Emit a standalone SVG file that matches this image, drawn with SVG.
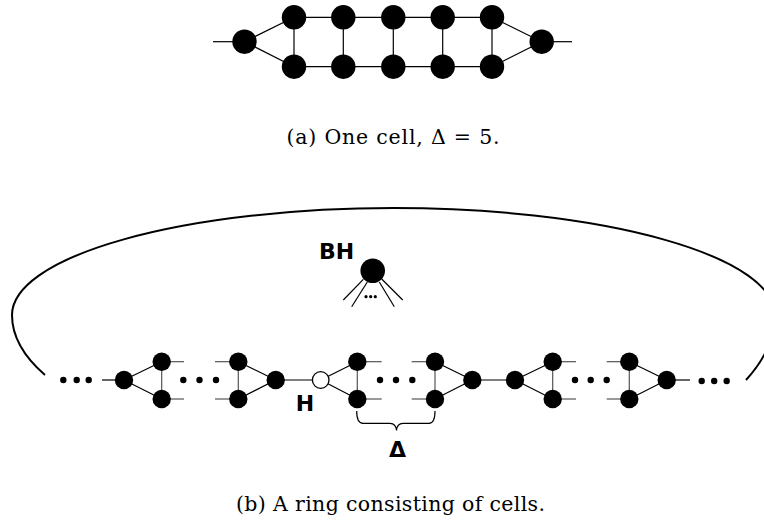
<svg xmlns="http://www.w3.org/2000/svg" width="764" height="532" viewBox="0 0 764 532">
<defs>
<style>
.e{stroke:#000;stroke-width:1.2;fill:none}
.s{stroke:#555;stroke-width:1.2;fill:none}
.n{fill:#000}
.d{fill:#000}
.cap{font-family:"DejaVu Serif","Liberation Serif",serif;fill:#000}
.lbl{font-family:"DejaVu Sans","Liberation Sans",sans-serif;font-weight:bold;fill:#000}
</style>
</defs>
<rect width="764" height="532" fill="#fff"/>

<!-- (a) one cell -->
<g id="connectors-a">
<line class="e" x1="213" y1="41.7" x2="244.5" y2="41.7"/>
<line class="e" x1="244.5" y1="41.7" x2="294" y2="17.3"/>
<line class="e" x1="244.5" y1="41.7" x2="294" y2="66.7"/>
<line class="e" x1="294" y1="17.3" x2="492" y2="17.3"/>
<line class="e" x1="294" y1="66.7" x2="492" y2="66.7"/>
<line class="e" x1="294" y1="17.3" x2="294" y2="66.7"/>
<line class="e" x1="343.3" y1="17.3" x2="343.3" y2="66.7"/>
<line class="e" x1="393.3" y1="17.3" x2="393.3" y2="66.7"/>
<line class="e" x1="442.7" y1="17.3" x2="442.7" y2="66.7"/>
<line class="e" x1="492" y1="17.3" x2="492" y2="66.7"/>
<line class="e" x1="492" y1="17.3" x2="541.7" y2="41.7"/>
<line class="e" x1="492" y1="66.7" x2="541.7" y2="41.7"/>
<line class="e" x1="541.7" y1="41.7" x2="572" y2="41.7"/>
</g>
<g id="cell-nodes">
<circle id="a-l" class="n" cx="244.5" cy="41.7" r="12.2"/>
<circle id="a-t1" class="n" cx="294" cy="17.3" r="12.2"/>
<circle id="a-t2" class="n" cx="343.3" cy="17.3" r="12.2"/>
<circle id="a-t3" class="n" cx="393.3" cy="17.3" r="12.2"/>
<circle id="a-t4" class="n" cx="442.7" cy="17.3" r="12.2"/>
<circle id="a-t5" class="n" cx="492" cy="17.3" r="12.2"/>
<circle id="a-b1" class="n" cx="294" cy="66.7" r="12.2"/>
<circle id="a-b2" class="n" cx="343.3" cy="66.7" r="12.2"/>
<circle id="a-b3" class="n" cx="393.3" cy="66.7" r="12.2"/>
<circle id="a-b4" class="n" cx="442.7" cy="66.7" r="12.2"/>
<circle id="a-b5" class="n" cx="492" cy="66.7" r="12.2"/>
<circle id="a-r" class="n" cx="541.7" cy="41.7" r="12.2"/>
</g>
<text class="cap" x="393" y="144" font-size="20.5" text-anchor="middle" textLength="213">(a) One cell, Δ = 5.</text>

<!-- (b) ring -->
<path id="ring" d="M 45 375 A 379 147 0 0 1 12 315 A 381.5 107 0 0 1 775 315 A 384 173 0 0 1 746 380" fill="none" stroke="#000" stroke-width="2"/>

<g id="connectors-b">
<line class="e" x1="102" y1="380" x2="124" y2="380"/>
<line class="e" x1="124" y1="380" x2="161.7" y2="361.7"/>
<line class="e" x1="124" y1="380" x2="161.7" y2="399"/>
<line class="s" x1="161.7" y1="361.7" x2="161.7" y2="399"/>
<line class="s" x1="161.7" y1="361.7" x2="184" y2="361.7"/>
<line class="s" x1="161.7" y1="399" x2="184" y2="399"/>
<line class="s" x1="215" y1="361.7" x2="238.3" y2="361.7"/>
<line class="s" x1="215" y1="399" x2="238.3" y2="399"/>
<line class="s" x1="238.3" y1="361.7" x2="238.3" y2="399"/>
<line class="e" x1="238.3" y1="361.7" x2="275.7" y2="380"/>
<line class="e" x1="238.3" y1="399" x2="275.7" y2="380"/>
<line class="e" x1="275.7" y1="380" x2="320.7" y2="380"/>
<line class="e" x1="320.7" y1="380" x2="357.3" y2="361.7"/>
<line class="e" x1="320.7" y1="380" x2="357.3" y2="399"/>
<line class="s" x1="357.3" y1="361.7" x2="357.3" y2="399"/>
<line class="s" x1="357.3" y1="361.7" x2="381.7" y2="361.7"/>
<line class="s" x1="357.3" y1="399" x2="381.7" y2="399"/>
<line class="s" x1="411.7" y1="361.7" x2="435" y2="361.7"/>
<line class="s" x1="411.7" y1="399" x2="435" y2="399"/>
<line class="s" x1="435" y1="361.7" x2="435" y2="399"/>
<line class="e" x1="435" y1="361.7" x2="472.3" y2="380"/>
<line class="e" x1="435" y1="399" x2="472.3" y2="380"/>
<line class="e" x1="472.3" y1="380" x2="515" y2="380"/>
<line class="e" x1="515" y1="380" x2="552.7" y2="361.7"/>
<line class="e" x1="515" y1="380" x2="552.7" y2="399"/>
<line class="s" x1="552.7" y1="361.7" x2="552.7" y2="399"/>
<line class="s" x1="552.7" y1="361.7" x2="576" y2="361.7"/>
<line class="s" x1="552.7" y1="399" x2="576" y2="399"/>
<line class="s" x1="606.7" y1="361.7" x2="629.3" y2="361.7"/>
<line class="s" x1="606.7" y1="399" x2="629.3" y2="399"/>
<line class="s" x1="629.3" y1="361.7" x2="629.3" y2="399"/>
<line class="e" x1="629.3" y1="361.7" x2="666.7" y2="380"/>
<line class="e" x1="629.3" y1="399" x2="666.7" y2="380"/>
<line class="e" x1="666.7" y1="380" x2="690" y2="380"/>
<!-- BH edges -->
<line class="e" stroke-width="1" x1="363.3" y1="279.3" x2="343.3" y2="300"/>
<line class="e" stroke-width="1" x1="367.3" y1="282" x2="351.7" y2="306.7"/>
<line class="e" stroke-width="1" x1="379.3" y1="282" x2="394.3" y2="306.7"/>
<line class="e" stroke-width="1" x1="381.7" y1="279" x2="402.7" y2="300"/>
<!-- brace -->
<path class="e" stroke-width="1" d="M 356.7 411 Q 356.7 423.3 363 423.3 L 390 423.3 Q 396 423.3 396.5 430.5 Q 397 423.3 403 423.3 L 429 423.3 Q 435 423.3 435 411"/>
</g>

<g id="dots">
<circle class="d" cx="63.3" cy="380" r="3.2"/>
<circle class="d" cx="76.7" cy="380" r="3.2"/>
<circle class="d" cx="88.7" cy="380" r="3.2"/>
<circle class="d" cx="183.3" cy="380" r="3.2"/>
<circle class="d" cx="199.5" cy="380" r="3.2"/>
<circle class="d" cx="216" cy="380" r="3.2"/>
<circle class="d" cx="380" cy="380" r="3.2"/>
<circle class="d" cx="396" cy="380" r="3.2"/>
<circle class="d" cx="412.3" cy="380" r="3.2"/>
<circle class="d" cx="575" cy="380" r="3.2"/>
<circle class="d" cx="590.7" cy="380" r="3.2"/>
<circle class="d" cx="606.7" cy="380" r="3.2"/>
<circle class="d" cx="701.7" cy="381" r="3.2"/>
<circle class="d" cx="714.2" cy="381" r="3.2"/>
<circle class="d" cx="726.7" cy="381" r="3.2"/>
<circle class="d" cx="366" cy="296.7" r="1.6"/>
<circle class="d" cx="370.7" cy="296.7" r="1.6"/>
<circle class="d" cx="375.3" cy="296.7" r="1.6"/>
</g>

<g id="bh">
<circle class="n" cx="372.7" cy="270.7" r="12.3"/>
<text class="lbl" x="319" y="259" font-size="22">BH</text>
</g>
<g id="c1">
<circle class="n" cx="124" cy="380" r="9.2"/>
<circle class="n" cx="161.7" cy="361.7" r="9.2"/>
<circle class="n" cx="161.7" cy="399" r="9.2"/>
</g>
<g id="c2">
<circle class="n" cx="238.3" cy="361.7" r="9.2"/>
<circle class="n" cx="238.3" cy="399" r="9.2"/>
<circle class="n" cx="275.7" cy="380" r="9.2"/>
</g>
<g id="h">
<circle cx="320.7" cy="380" r="8.3" fill="#fff" stroke="#000" stroke-width="1.3"/>
<text class="lbl" x="305" y="410.7" font-size="22" text-anchor="middle">H</text>
</g>
<g id="c3">
<circle class="n" cx="357.3" cy="361.7" r="9.2"/>
<circle class="n" cx="357.3" cy="399" r="9.2"/>
</g>
<g id="c4">
<circle class="n" cx="435" cy="361.7" r="9.2"/>
<circle class="n" cx="435" cy="399" r="9.2"/>
<circle class="n" cx="472.3" cy="380" r="9.2"/>
</g>
<g id="c5">
<circle class="n" cx="515" cy="380" r="9.2"/>
<circle class="n" cx="552.7" cy="361.7" r="9.2"/>
<circle class="n" cx="552.7" cy="399" r="9.2"/>
</g>
<g id="c6">
<circle class="n" cx="629.3" cy="361.7" r="9.2"/>
<circle class="n" cx="629.3" cy="399" r="9.2"/>
<circle class="n" cx="666.7" cy="380" r="9.2"/>
</g>
<g id="delta">
<text class="lbl" x="397.5" y="457.3" font-size="22" text-anchor="middle">Δ</text>
</g>
<text class="cap" x="390.5" y="510.5" font-size="20.5" text-anchor="middle" textLength="309">(b) A ring consisting of cells.</text>
</svg>
